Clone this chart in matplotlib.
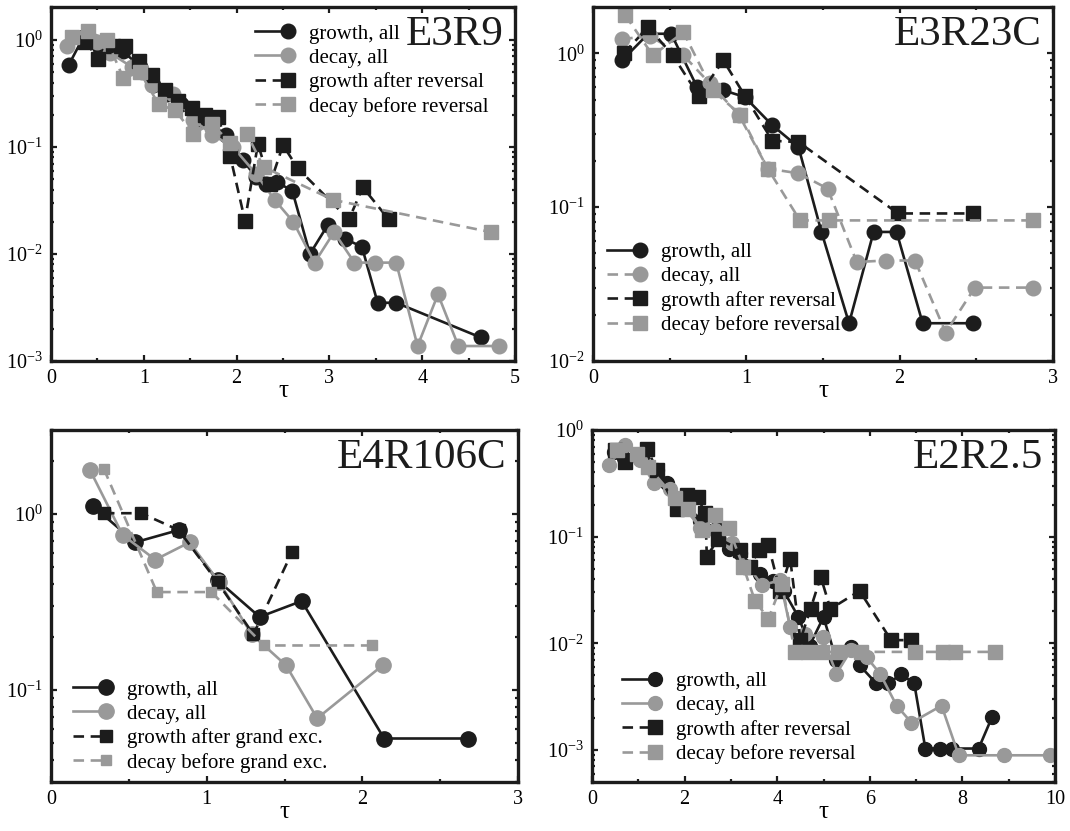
import numpy as np
import matplotlib
matplotlib.use("Agg")
import matplotlib.pyplot as plt
from matplotlib.lines import Line2D
from matplotlib.legend_handler import HandlerLine2D
from matplotlib.ticker import LogLocator, MultipleLocator, NullFormatter

plt.rcParams['font.family'] = ['Liberation Serif', 'DejaVu Serif']
plt.rcParams['mathtext.fontset'] = 'custom'
plt.rcParams['mathtext.rm'] = 'Liberation Serif'
plt.rcParams['mathtext.it'] = 'Liberation Serif:italic'
plt.rcParams['mathtext.default'] = 'regular'
plt.rcParams['axes.unicode_minus'] = False

# ---------------- data ----------------
# Panel E3R9
e3r9_g_all_x = [0.19, 0.35, 0.53, 0.78, 0.96, 1.10, 1.25, 1.40, 1.64, 1.89, 2.07, 2.21, 2.32, 2.43, 2.60, 2.79, 2.98, 3.17, 3.35, 3.52, 3.72, 4.63]
e3r9_g_all_y = [0.58, 1.07, 0.84, 0.78, 0.56, 0.38, 0.31, 0.25, 0.18, 0.13, 0.075, 0.052, 0.045, 0.047, 0.039, 0.010, 0.0185, 0.0138, 0.0117, 0.0035, 0.0035, 0.00166]
e3r9_d_all_x = [0.17, 0.32, 0.50, 0.64, 0.87, 0.98, 1.09, 1.32, 1.53, 1.74, 1.96, 2.21, 2.41, 2.61, 2.84, 3.05, 3.27, 3.49, 3.72, 3.95, 4.17, 4.39, 4.83]
e3r9_d_all_y = [0.87, 1.05, 0.95, 0.75, 0.56, 0.50, 0.38, 0.31, 0.18, 0.13, 0.10, 0.056, 0.032, 0.020, 0.0083, 0.016, 0.0083, 0.0083, 0.0083, 0.00138, 0.0042, 0.00138, 0.00138]
e3r9_g_rev_x = [0.37, 0.51, 0.67, 0.80, 0.95, 1.09, 1.23, 1.37, 1.52, 1.66, 1.80, 1.93, 2.09, 2.23, 2.36, 2.50, 2.66, 3.21, 3.36, 3.64]
e3r9_g_rev_y = [0.96, 0.67, 0.87, 0.87, 0.63, 0.47, 0.34, 0.27, 0.23, 0.20, 0.19, 0.083, 0.0205, 0.107, 0.045, 0.104, 0.063, 0.021, 0.042, 0.021]
e3r9_d_rev_x = [0.23, 0.40, 0.60, 0.78, 0.96, 1.16, 1.34, 1.53, 1.73, 1.93, 2.11, 2.29, 3.04, 4.74]
e3r9_d_rev_y = [1.07, 1.20, 1.00, 0.44, 0.50, 0.25, 0.22, 0.133, 0.165, 0.11, 0.133, 0.065, 0.032, 0.016]

# Panel E3R23C
e3r23_g_all_x = [0.19, 0.36, 0.51, 0.68, 0.85, 0.99, 1.17, 1.34, 1.49, 1.67, 1.83, 1.98, 2.15, 2.48]
e3r23_g_all_y = [0.90, 1.34, 1.34, 0.60, 0.575, 0.52, 0.34, 0.246, 0.069, 0.0176, 0.069, 0.069, 0.0176, 0.0176]
e3r23_d_all_x = [0.19, 0.37, 0.59, 0.76, 0.95, 1.14, 1.34, 1.53, 1.72, 1.91, 2.10, 2.30, 2.49, 2.87]
e3r23_d_all_y = [1.24, 1.29, 0.97, 0.64, 0.40, 0.178, 0.166, 0.132, 0.044, 0.045, 0.045, 0.0153, 0.030, 0.030]
e3r23_g_rev_x = [0.20, 0.36, 0.52, 0.69, 0.85, 0.99, 1.17, 1.34, 1.99, 2.48]
e3r23_g_rev_y = [1.00, 1.48, 0.97, 0.53, 0.90, 0.53, 0.27, 0.265, 0.091, 0.091]
e3r23_d_rev_x = [0.21, 0.39, 0.59, 0.78, 0.96, 1.14, 1.35, 1.54, 2.87]
e3r23_d_rev_y = [1.77, 0.97, 1.37, 0.575, 0.40, 0.178, 0.082, 0.082, 0.082]

# Panel E4R106C
e4_g_all_x = [0.27, 0.54, 0.82, 1.07, 1.34, 1.61, 2.14, 2.68]
e4_g_all_y = [1.11, 0.69, 0.81, 0.42, 0.26, 0.32, 0.053, 0.053]
e4_d_all_x = [0.25, 0.46, 0.67, 0.89, 1.08, 1.29, 1.51, 1.71, 2.13]
e4_d_all_y = [1.78, 0.76, 0.55, 0.69, 0.41, 0.207, 0.138, 0.069, 0.138]
e4_g_exc_x = [0.34, 0.58, 0.82, 1.07, 1.30, 1.55]
e4_g_exc_y = [1.01, 1.01, 0.81, 0.41, 0.207, 0.61]
e4_d_exc_x = [0.34, 0.68, 1.03, 1.37, 2.06]
e4_d_exc_y = [1.80, 0.36, 0.36, 0.179, 0.179]

# Panel E2R2.5
e2_g_all_x = [0.47, 0.70, 1.10, 1.40, 1.62, 2.00, 2.34, 2.70, 2.95, 3.20, 3.63, 3.92, 4.14, 4.46, 4.70, 5.00, 5.28, 5.60, 5.78, 6.14, 6.39, 6.68, 6.96, 7.20, 7.52, 7.77, 8.35, 8.64]
e2_g_all_y = [0.62, 0.55, 0.60, 0.42, 0.32, 0.22, 0.14, 0.12, 0.077, 0.070, 0.045, 0.038, 0.031, 0.0176, 0.0095, 0.0176, 0.0069, 0.0092, 0.0062, 0.0042, 0.0042, 0.0051, 0.0042, 0.00103, 0.00103, 0.00103, 0.00103, 0.00203]
e2_d_all_x = [0.36, 0.72, 1.04, 1.33, 1.69, 2.34, 2.66, 3.02, 3.67, 4.06, 4.28, 4.60, 4.98, 5.28, 5.60, 5.93, 6.22, 6.58, 6.90, 7.55, 7.92, 8.89, 9.90]
e2_d_all_y = [0.47, 0.72, 0.52, 0.32, 0.28, 0.12, 0.115, 0.087, 0.035, 0.039, 0.0142, 0.0123, 0.0114, 0.0052, 0.0087, 0.0074, 0.0052, 0.0026, 0.0018, 0.0026, 0.00089, 0.00089, 0.00089]
e2_g_rev_x = [0.50, 0.72, 1.19, 1.40, 1.83, 2.05, 2.28, 2.45, 2.48, 2.73, 3.20, 3.42, 3.60, 3.81, 4.06, 4.28, 4.50, 4.72, 4.94, 5.15, 5.78, 6.46, 6.90]
e2_g_rev_y = [0.65, 0.50, 0.67, 0.42, 0.18, 0.245, 0.235, 0.165, 0.065, 0.096, 0.075, 0.052, 0.075, 0.083, 0.031, 0.062, 0.0107, 0.021, 0.042, 0.021, 0.031, 0.0107, 0.0107]
e2_d_rev_x = [0.54, 0.97, 1.22, 1.80, 2.08, 2.37, 2.66, 2.95, 3.27, 3.52, 3.81, 4.10, 4.38, 4.67, 4.96, 5.32, 5.82, 6.97, 7.58, 7.84, 8.70]
e2_d_rev_y = [0.65, 0.60, 0.45, 0.23, 0.18, 0.115, 0.16, 0.12, 0.052, 0.025, 0.017, 0.036, 0.0083, 0.0083, 0.0083, 0.0083, 0.0083, 0.0083, 0.0083, 0.0083, 0.0083]

titles = ["E3R9", "E3R23C", "E4R106C", "E2R2.5"]
labels_rev = ["growth, all", "decay, all", "growth after reversal", "decay before reversal"]
labels_exc = ["growth, all", "decay, all", "growth after grand exc.", "decay before grand exc."]
xlabel = "τ"

BLACK = "#1c1c1c"
GRAY = "#999999"


class RightMarker(HandlerLine2D):
    """Legend handle: line with the marker placed at its right end."""
    def create_artists(self, legend, orig_handle, xdescent, ydescent,
                       width, height, fontsize, trans):
        y = (height - ydescent) / 2
        line = Line2D([-xdescent, -xdescent + width], [y, y])
        self.update_prop(line, orig_handle, legend)
        line.set_marker('None')
        mk = Line2D([-xdescent + width], [y])
        self.update_prop(mk, orig_handle, legend)
        mk.set_linestyle('None')
        line.set_transform(trans)
        mk.set_transform(trans)
        return [line, mk]


W, H = 1070, 831
fig = plt.figure(figsize=(W / 100, H / 100), dpi=100)


def add_ax(l, r, t, b):
    return fig.add_axes([l / W, 1 - b / H, (r - l) / W, (b - t) / H])


panels = [
    dict(box=(51, 515, 7, 361), xlim=(0, 5), ylim=(1e-3, 2.03), xmajor=1, xminor=0.5,
         series=[(e3r9_g_all_x, e3r9_g_all_y), (e3r9_d_all_x, e3r9_d_all_y),
                 (e3r9_g_rev_x, e3r9_g_rev_y), (e3r9_d_rev_x, e3r9_d_rev_y)],
         labels=labels_rev, dstyle='-', leg=(0.44, 0.952), msz=(10.5, 10.5, 10, 10)),
    dict(box=(593, 1053, 7, 361), xlim=(0, 3), ylim=(1e-2, 2.0), xmajor=1, xminor=0.5,
         series=[(e3r23_g_all_x, e3r23_g_all_y), (e3r23_d_all_x, e3r23_d_all_y),
                 (e3r23_g_rev_x, e3r23_g_rev_y), (e3r23_d_rev_x, e3r23_d_rev_y)],
         labels=labels_rev, dstyle='--', leg=(0.03, 0.335), msz=(10.5, 10.5, 10, 10)),
    dict(box=(51, 518, 430, 782), xlim=(0, 3), ylim=(0.03, 3.0), xmajor=1, xminor=0.5,
         series=[(e4_g_all_x, e4_g_all_y), (e4_d_all_x, e4_d_all_y),
                 (e4_g_exc_x, e4_g_exc_y), (e4_d_exc_x, e4_d_exc_y)],
         labels=labels_exc, dstyle='-', leg=(0.047, 0.29), msz=(11, 11, 9, 7.5)),
    dict(box=(592, 1055, 430, 782), xlim=(0, 10), ylim=(5e-4, 1.0), xmajor=2, xminor=1,
         series=[(e2_g_all_x, e2_g_all_y), (e2_d_all_x, e2_d_all_y),
                 (e2_g_rev_x, e2_g_rev_y), (e2_d_rev_x, e2_d_rev_y)],
         labels=labels_rev, dstyle='-', leg=(0.065, 0.314), msz=(10, 10, 9.5, 9.5)),
]

for p, title in zip(panels, titles):
    ax = add_ax(*p['box'])
    ax.set_yscale('log')
    (gx, gy), (dx, dy), (grx, gry), (drx, dry) = p['series']
    ms = p['msz']
    h1, = ax.plot(gx, gy, '-', color=BLACK, lw=1.9, marker='o', ms=ms[0], label=p['labels'][0])
    h2, = ax.plot(dx, dy, p['dstyle'], color=GRAY, lw=1.9, marker='o', ms=ms[1], label=p['labels'][1])
    if p['dstyle'] == '--':
        h2.set_dashes((4, 2.5))
    h3, = ax.plot(grx, gry, '--', color=BLACK, lw=1.9, marker='s', ms=ms[2], label=p['labels'][2])
    h3.set_dashes((4, 2.5))
    h4, = ax.plot(drx, dry, '--', color=GRAY, lw=1.9, marker='s', ms=ms[3], label=p['labels'][3])
    h4.set_dashes((4, 2.5))

    ax.set_xlim(*p['xlim'])
    ax.set_ylim(*p['ylim'])
    ax.xaxis.set_major_locator(MultipleLocator(p['xmajor']))
    ax.xaxis.set_minor_locator(MultipleLocator(p['xminor']))
    ax.yaxis.set_major_locator(LogLocator(base=10, numticks=10))
    ax.yaxis.set_minor_locator(LogLocator(base=10, subs=np.arange(2, 10), numticks=20))
    ax.yaxis.set_minor_formatter(NullFormatter())
    ax.tick_params(which='both', direction='in', top=True, right=True, width=1.6,
                   labelsize=14.5, pad=6, color=BLACK)
    ax.tick_params(which='major', length=4.5)
    ax.tick_params(which='minor', length=2.5)
    for s in ax.spines.values():
        s.set_linewidth(2.4)
        s.set_color(BLACK)
    ax.set_xlabel(xlabel, fontsize=18, labelpad=-6)

    ax.text(0.975, 0.975, title, transform=ax.transAxes, ha='right', va='top',
            fontsize=31, color=BLACK)

    ax.legend(handles=[h1, h2, h3, h4], loc='upper left', bbox_to_anchor=p['leg'],
              frameon=False, fontsize=15, handlelength=1.6, handletextpad=1.0,
              labelspacing=0.22, borderpad=0, borderaxespad=0,
              handler_map={Line2D: RightMarker()})

fig.savefig("out.png", dpi=100)
